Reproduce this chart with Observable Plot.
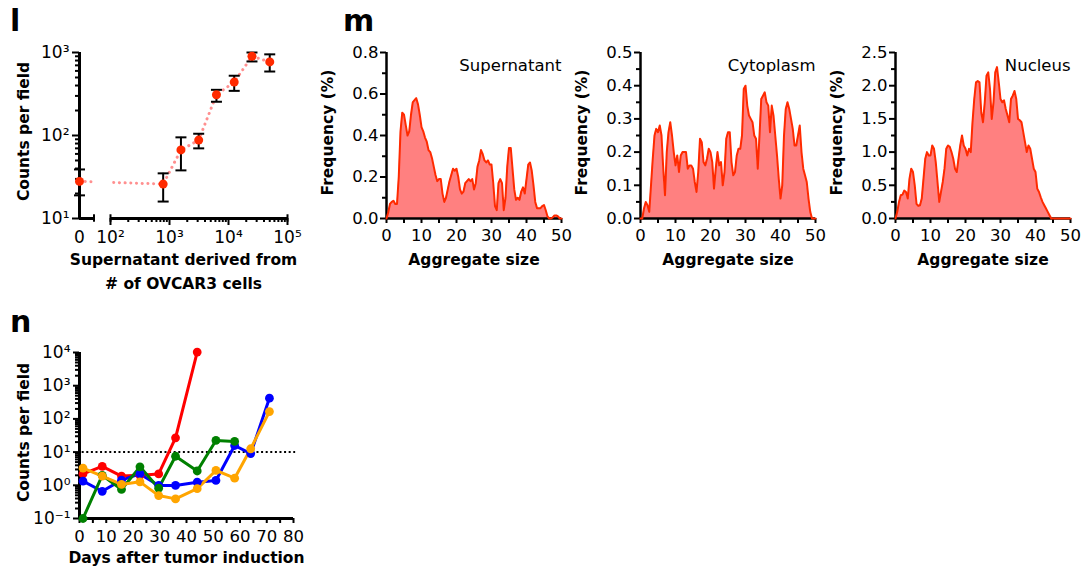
<!DOCTYPE html>
<html><head><meta charset="utf-8">
<script src="https://cdn.jsdelivr.net/npm/d3@7"></script>
<script src="https://cdn.jsdelivr.net/npm/@observablehq/plot@0.6"></script>
<style>
body{margin:0;background:#fff;}
#fig{position:relative;width:1086px;height:571px;overflow:hidden;font-family:"DejaVu Sans",sans-serif;color:#000;}
.lab{position:absolute;font-weight:bold;font-size:30px;line-height:30px;}
</style></head><body>
<div id="fig">
  <div class="lab" style="left:10px;top:6px">l</div>
  <div class="lab" style="left:343px;top:6px">m</div>
  <div class="lab" style="left:10px;top:307px">n</div>
</div>
<script>
// ---------- Panel l data ----------
const cellNumbers = [0, 781, 1563, 3125, 6250, 12500, 25000, 50000];
const countsMean  = [28, 26, 67, 88, 310, 440, 900, 770];
const countsLow   = [19, 16, 38, 70, 255, 345, 780, 590];
const countsHigh  = [39, 35, 95, 105, 355, 525, 1000, 950];
const lYMajor = [10, 100, 1000];
const lXMajor = [100, 1000, 10000, 100000];

// ---------- Panel m data ----------
const aggregateSize = [0,0.5,1,1.5,2,2.5,3,3.5,4,4.5,5,5.5,6,6.5,7,7.5,8,8.5,9,9.5,10,10.5,11,11.5,12,12.5,13,13.5,14,14.5,15,15.5,16,16.5,17,17.5,18,18.5,19,19.5,20,20.5,21,21.5,22,22.5,23,23.5,24,24.5,25,25.5,26,26.5,27,27.5,28,28.5,29,29.5,30,30.5,31,31.5,32,32.5,33,33.5,34,34.5,35,35.5,36,36.5,37,37.5,38,38.5,39,39.5,40,40.5,41,41.5,42,42.5,43,43.5,44,44.5,45,45.5,46,46.5,47,47.5,48,48.5,49,49.5,50];
const supernatant = [
  0, 0.03, 0.07, 0.08, 0.085, 0.07, 0.07, 0.2, 0.42, 0.51,
  0.5, 0.45, 0.4, 0.42, 0.5, 0.56, 0.57, 0.58, 0.55, 0.5,
  0.44, 0.42, 0.39, 0.37, 0.33, 0.32, 0.29, 0.25, 0.21, 0.18,
  0.19, 0.19, 0.12, 0.08, 0.1, 0.14, 0.18, 0.21, 0.24, 0.23,
  0.24, 0.2, 0.14, 0.12, 0.13, 0.17, 0.18, 0.19, 0.18, 0.19,
  0.14, 0.17, 0.25, 0.28, 0.33, 0.31, 0.28, 0.27, 0.28, 0.26,
  0.26, 0.17, 0.06, 0.04, 0.17, 0.19, 0.17, 0.04, 0.1, 0.25,
  0.34, 0.34, 0.24, 0.14, 0.09, 0.1, 0.09, 0.13, 0.15, 0.12,
  0.19, 0.26, 0.27, 0.23, 0.16, 0.08, 0.05, 0.05, 0.05, 0.06,
  0.065, 0.04, 0.01, 0, 0, 0.005, 0.015, 0.015, 0.01, 0,
  0];
const cytoplasm = [
  0, 0, 0.03, 0.05, 0.04, 0.02, 0.1, 0.18, 0.25, 0.27,
  0.26, 0.28, 0.25, 0.15, 0.07, 0.2, 0.26, 0.29, 0.25, 0.2,
  0.16, 0.19, 0.14, 0.19, 0.2, 0.2, 0.2, 0.15, 0.16, 0.16,
  0.15, 0.11, 0.08, 0.14, 0.24, 0.23, 0.17, 0.16, 0.18, 0.21,
  0.2, 0.17, 0.09, 0.15, 0.2, 0.16, 0.17, 0.1, 0.14, 0.24,
  0.26, 0.26, 0.17, 0.13, 0.14, 0.19, 0.21, 0.21, 0.25, 0.39,
  0.4, 0.34, 0.31, 0.3, 0.29, 0.25, 0.24, 0.15, 0.25, 0.36,
  0.37, 0.38, 0.35, 0.34, 0.26, 0.34, 0.31, 0.25, 0.19, 0.12,
  0.06, 0.1, 0.25, 0.33, 0.35, 0.33, 0.3, 0.27, 0.22, 0.22,
  0.25, 0.28, 0.2, 0.15, 0.13, 0.11, 0.06, 0.02, 0, 0,
  0];
const nucleus = [
  0, 0.1, 0.25, 0.35, 0.36, 0.42, 0.4, 0.3, 0.6, 0.75,
  0.7, 0.5, 0.22, 0.19, 0.2, 0.3, 0.6, 0.9, 1.0, 0.95,
  0.95, 1.1, 1.05, 0.85, 0.55, 0.25, 0.4, 0.55, 0.75, 1.05,
  1.1, 1.08, 1.0, 0.9, 0.75, 0.7, 0.9, 1.1, 1.25, 1.1,
  1.05, 0.95, 1.05, 1.0, 1.45, 1.8, 2.05, 2.07, 2.05, 1.6,
  1.45, 1.75, 2.15, 2.2, 1.95, 1.5, 1.75, 2.2, 2.28, 2.05,
  1.8, 1.75, 1.78, 1.65, 1.55, 1.45, 1.8, 1.85, 1.92, 1.8,
  1.5, 1.48, 1.45, 1.3, 1.15, 1.0, 1.1, 1.05, 0.9, 0.75,
  0.7, 0.45, 0.4, 0.32, 0.25, 0.2, 0.15, 0.1, 0.05, 0,
  0, 0, 0, 0, 0, 0, 0, 0, 0, 0,
  0];
const supernatantTicks = [0, 0.2, 0.4, 0.6, 0.8];
const supernatantMinor = [0.1, 0.3, 0.5, 0.7];
const cytoplasmTicks = [0, 0.1, 0.2, 0.3, 0.4, 0.5];
const cytoplasmMinor = [0.05, 0.15, 0.25, 0.35, 0.45];
const nucleusTicks = [0, 0.5, 1.0, 1.5, 2.0, 2.5];
const nucleusMinor = [0.25, 0.75, 1.25, 1.75, 2.25];
const sizeTicks = [0, 10, 20, 30, 40, 50];
const sizeMinor = [5, 15, 25, 35, 45];

// ---------- Panel n data ----------
const days = [1.3, 8.5, 15.7, 22.6, 29.6, 35.9, 44, 51, 58, 64, 71];
const mouseRed    = [2.2, 3.7, 1.9, 2.0, 2.2, 27, 10300];
const mouseBlue   = [1.33, 0.66, 1.43, 2.2, 0.99, 0.99, 1.24, 1.4, 15.8, 9.0, 420];
const mouseGreen  = [0.1, 2.0, 0.75, 3.6, 0.82, 7.5, 2.7, 22.4, 21];
const mouseOrange = [3.3, 1.9, 1.06, 1.27, 0.49, 0.39, 0.79, 2.8, 1.64, 12.6, 166];
const seriesNames = ["red", "blue", "green", "orange"];
const seriesColors = ["#ff2a00", "#1436ff", "#138c13", "#ff9a12"];
const nYMajor = [0.1, 1, 10, 100, 1000, 10000];
const dayTicks = [0, 10, 20, 30, 40, 50, 60, 70, 80];
const dayMinor = [5, 15, 25, 35, 45, 55, 65, 75];
const threshold = 10;

// ---------- helpers ----------
const fig = document.getElementById("fig");
function place(el, left, top) {
  el.style.position = "absolute";
  el.style.left = left + "px";
  el.style.top = top + "px";
  fig.appendChild(el);
}
const supMap = {"-": "\u207B", "0": "\u2070", "1": "\u00B9", "2": "\u00B2", "3": "\u00B3", "4": "\u2074", "5": "\u2075", "6": "\u2076", "7": "\u2077", "8": "\u2078", "9": "\u2079"};
const pow10 = v => "10" + String(Math.round(Math.log10(v))).split("").map(c => supMap[c]).join("");
const logMinor = (lo, hi) => {
  const out = [];
  for (let e = Math.round(Math.log10(lo)); 10 ** e < hi; e++)
    for (let m = 2; m <= 9; m++) out.push(m * 10 ** e);
  return out;
};
const blank = () => "";
const baseStyle = {fontFamily: "'DejaVu Sans', sans-serif", fontSize: "16.5px", color: "#000", background: "transparent", overflow: "visible"};
const titleOpts = {fontWeight: "bold", fontSize: 15.5, text: d => d, textAnchor: "middle", lineAnchor: "middle"};
const cap = {draw(ctx) { ctx.moveTo(-5.5, 0); ctx.lineTo(5.5, 0); }};

// ---------- Panel l ----------
{
  const lData = cellNumbers.map((c, i) => ({cells: c, mean: countsMean[i], lo: countsLow[i], hi: countsHigh[i]}));
  const zeroPos = 10 ** 1.4746;   // position of the "0" group on the broken axis
  const breakEnd = 10 ** 1.72;    // end of the left axis segment
  const lx = d => d.cells === 0 ? zeroPos : d.cells;
  const svg = Plot.plot({
    width: 300, height: 260, marginLeft: 79, marginRight: 13, marginTop: 12, marginBottom: 82,
    style: baseStyle,
    x: {type: "log", domain: [zeroPos, 1e5], axis: null},
    y: {type: "log", domain: [10, 1000], axis: null},
    marks: [
      Plot.line(lData, {x: lx, y: "mean", stroke: "#ff8f8f", strokeWidth: 3, strokeDasharray: "0.1 5.6", strokeLinecap: "round"}),
      Plot.rect([0], {x1: breakEnd, x2: 100, y1: 11, y2: 60, fill: "white"}),
      Plot.ruleX([zeroPos], {y1: 10, y2: 1000, strokeWidth: 3}),
      Plot.ruleY([10], {x1: zeroPos, x2: breakEnd, strokeWidth: 3}),
      Plot.ruleY([10], {x1: 100, x2: 1e5, strokeWidth: 3}),
      Plot.ruleX([breakEnd, 100, 1e5], {y1: 10 ** 0.955, y2: 10 ** 1.045, strokeWidth: 2}),
      Plot.axisY({ticks: logMinor(10, 1000), tickSize: 4, tickFormat: blank, strokeWidth: 2, label: null}),
      Plot.axisY({ticks: lYMajor, tickSize: 7, tickPadding: 3, tickFormat: pow10, strokeWidth: 2, label: null, fontSize: 17}),
      Plot.axisX({ticks: logMinor(100, 1e5), tickSize: 4, tickFormat: blank, strokeWidth: 2, label: null}),
      Plot.axisX({ticks: lXMajor, tickSize: 7, tickPadding: 5, tickFormat: pow10, strokeWidth: 2, label: null, fontSize: 17}),
      Plot.text(["0"], {text: d => d, x: zeroPos, frameAnchor: "bottom", lineAnchor: "top", dy: 12, fontSize: 17}),
      Plot.ruleX(lData, {x: lx, y1: "lo", y2: "hi", strokeWidth: 2}),
      Plot.dot(lData, {x: lx, y: "hi", symbol: cap, stroke: "black", strokeWidth: 2, fill: "none"}),
      Plot.dot(lData, {x: lx, y: "lo", symbol: cap, stroke: "black", strokeWidth: 2, fill: "none"}),
      Plot.dot(lData, {x: lx, y: "mean", r: 4.5, fill: "#ff2a00"}),
      Plot.text(["Counts per field"], {...titleOpts, frameAnchor: "left", rotate: -90, dx: -55, dy: -4}),
      Plot.text(["Supernatant derived from\n# of OVCAR3 cells"], {...titleOpts, frameAnchor: "bottom", dy: 51, lineHeight: 1.5})
    ]
  });
  place(svg, 0, 40);
}

// ---------- Panel m ----------
function areaPanel(values, yTicks, yMinor, name, left) {
  const data = aggregateSize.map((s, i) => ({size: s, freq: values[i]}));
  const svg = Plot.plot({
    width: 250, height: 235, marginLeft: 66, marginRight: 9, marginTop: 12, marginBottom: 57,
    style: baseStyle,
    x: {domain: [0, 50], axis: null},
    y: {domain: [0, yTicks[yTicks.length - 1]], axis: null},
    marks: [
      Plot.areaY(data, {x: "size", y: "freq", fill: "#ff8080"}),
      Plot.ruleX([0], {strokeWidth: 2.5}),
      Plot.ruleY([0], {strokeWidth: 2.5}),
      Plot.axisY({ticks: yMinor, tickSize: 4, tickFormat: blank, strokeWidth: 2, label: null}),
      Plot.axisY({ticks: yTicks, tickSize: 6, tickPadding: 2, tickFormat: v => v.toFixed(1), strokeWidth: 2, label: null}),
      Plot.axisX({ticks: sizeMinor, tickSize: 5, tickFormat: blank, strokeWidth: 2, label: null}),
      Plot.axisX({ticks: sizeTicks, tickSize: 5, tickPadding: 6, strokeWidth: 2, label: null}),
      Plot.lineY(data, {x: "size", y: "freq", stroke: "#ff2a00", strokeWidth: 2}),
      Plot.text([name], {text: d => d, frameAnchor: "top-right", textAnchor: "end", dy: 7, fontSize: 16.5}),
      Plot.text(["Frequency (%)"], {...titleOpts, frameAnchor: "left", rotate: -90, dx: -58, dy: -3}),
      Plot.text(["Aggregate size"], {...titleOpts, frameAnchor: "bottom", dy: 42})
    ]
  });
  place(svg, left, 40);
}
areaPanel(supernatant, supernatantTicks, supernatantMinor, "Supernatant", 320);
areaPanel(cytoplasm, cytoplasmTicks, cytoplasmMinor, "Cytoplasm", 574);
areaPanel(nucleus, nucleusTicks, nucleusMinor, "Nucleus", 829);

// ---------- Panel n ----------
{
  const series = [mouseRed, mouseBlue, mouseGreen, mouseOrange];
  const nData = series.flatMap((vals, k) => vals.map((v, i) => ({series: seriesNames[k], day: days[i], count: v})));
  const svg = Plot.plot({
    width: 310, height: 241, marginLeft: 79, marginRight: 17, marginTop: 22, marginBottom: 53,
    style: baseStyle,
    x: {domain: [0, 80], axis: null},
    y: {type: "log", domain: [0.1, 10000], axis: null},
    color: {domain: seriesNames, range: seriesColors},
    marks: [
      Plot.ruleY([threshold], {x1: 1, x2: 80.8, strokeWidth: 2, strokeDasharray: "2 2.6"}),
      Plot.ruleX([0], {strokeWidth: 3}),
      Plot.ruleY([0.1], {strokeWidth: 3}),
      Plot.axisY({ticks: logMinor(0.1, 10000), tickSize: 4, tickFormat: blank, strokeWidth: 2, label: null}),
      Plot.axisY({ticks: nYMajor, tickSize: 6, tickPadding: 3, tickFormat: pow10, strokeWidth: 2, label: null, fontSize: 17}),
      Plot.axisX({ticks: dayMinor, tickSize: 5, tickFormat: blank, strokeWidth: 2, label: null}),
      Plot.axisX({ticks: dayTicks, tickSize: 5, tickPadding: 7, strokeWidth: 2, label: null}),
      Plot.line(nData, {x: "day", y: "count", z: "series", stroke: "series", strokeWidth: 3}),
      Plot.dot(nData, {x: "day", y: "count", fill: "series", r: 4.4}),
      Plot.text(["Counts per field"], {...titleOpts, frameAnchor: "left", rotate: -90, dx: -55, dy: -3}),
      Plot.text(["Days after tumor induction"], {...titleOpts, frameAnchor: "bottom", dy: 40})
    ]
  });
  place(svg, 0, 330);
}
</script>
</body></html>
